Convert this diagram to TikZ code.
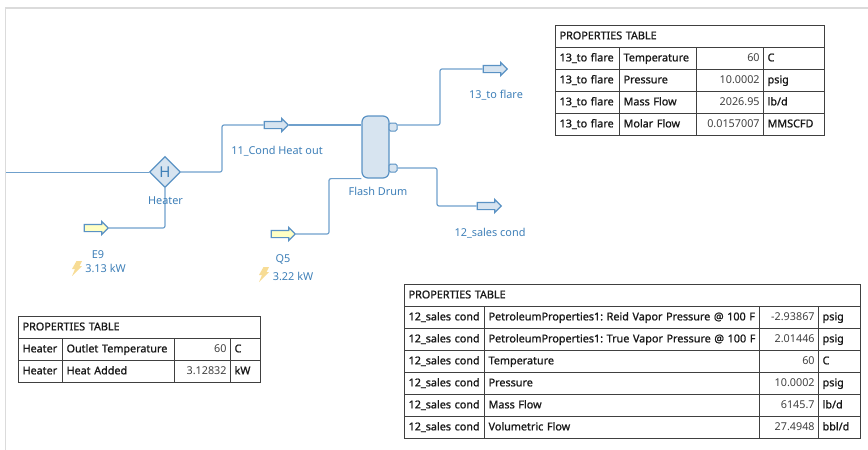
\documentclass[tikz,border=0pt]{standalone}
\usepackage{fontspec}
\setmainfont{Noto Sans}
\newfontfamily\cellfont[FakeBold=1.2, WordSpace=0.6]{Noto Sans}
\frenchspacing
\usepackage{tikz}
\usetikzlibrary{arrows.meta, positioning, shapes.geometric, shapes.arrows}

\definecolor{linecol}{HTML}{6FA0CC}
\definecolor{edgecol}{HTML}{5A92C4}
\definecolor{fillcol}{HTML}{D7E4F0}
\definecolor{textcol}{HTML}{3F80B8}
\definecolor{energycol}{HTML}{FFFFC4}
\definecolor{boltcol}{HTML}{F7DC95}
\definecolor{gridcol}{HTML}{404040}

\tikzset{
  stream/.style={draw=linecol, line width=1.2pt, rounded corners=2pt},
  flowmark/.style={single arrow, draw=edgecol, fill=fillcol, line width=1.2pt, inner xsep=0pt, inner ysep=3pt,
    minimum height=24pt, single arrow head extend=3pt},
  energymark/.style={flowmark, fill=energycol},
  lbl/.style={text=textcol, font=\fontsize{10.9}{12}\selectfont, inner sep=0pt, yshift=-0.7pt},
  nozzle/.style={draw=edgecol, fill=fillcol, line width=1pt, rounded corners=1.5pt,
    minimum width=8pt, minimum height=8pt, inner sep=0pt},
  cell/.style={draw=gridcol, line width=1.2pt, anchor=north west, inner sep=0pt, minimum height=22pt,
    text height=8pt, text depth=2.5pt, font=\cellfont\frenchspacing\fontsize{10.8}{12}\selectfont, text=black!90},
  lcell/.style={cell, minimum width=#1, text width=#1-8pt, align=left},
  rcell/.style={cell, minimum width=#1, text width=#1-8pt, align=right,
    font=\rmfamily\fontsize{10.8}{12}\selectfont, text=black!75},
}
\newcommand{\boltmark}[2]{%
  \fill[boltcol, shift={(#1,#2)}] (1.5,-7) -- (7,-7) -- (4.5,-2) -- (7,-2) -- (-3,8) -- (0,1) -- (-3,1) -- cycle;}

\begin{document}
\begin{tikzpicture}[x=1pt, y=-1pt]
  \useasboundingbox (0,0) rectangle (868,450);
  % Window edge
  \draw[black!14, line width=1.5pt] (868,8) -- (5.5,8) -- (5.5,450);

  % Units
  \node[diamond, draw=edgecol, fill=fillcol, line width=1.2pt, minimum size=31pt, inner sep=0pt,
    text=textcol, font=\fontsize{15}{16}\selectfont] (heater) at (165,172) {H};
  \node[draw=edgecol, fill=fillcol, line width=1.2pt, rounded corners=6pt, minimum width=27pt,
    minimum height=62pt, inner sep=0pt] (drum) at (375.5,147) {};
  \node[nozzle] (noztop) at (393,127) {};
  \node[nozzle] (nozbot) at (393,168) {};

  % Stream marks
  \coordinate (feed) at (6,172.4);
  \node[flowmark] (s11) at (274.5,125) {};
  \node[flowmark] (s13) at (493.5,69) {};
  \node[flowmark] (s12) at (487.5,206) {};
  \node[energymark] (e9) at (94.5,228) {};
  \node[energymark] (q5) at (281.5,234) {};

  % Connectors
  \draw[stream] (feed) -- (heater.west |- feed);
  \draw[stream] (heater.east) -- (222,172) |- (s11.west);
  \draw[stream] (s11.east) -- (drum.west |- s11.east);
  \draw[stream] (e9.east) -| (heater.south);
  \draw[stream] (q5.east) -- (329,234) |- (drum.south west);
  \draw[stream] (noztop.east |- 0,125) -- (440,125) |- (s13.west);
  \draw[stream] (nozbot.east) -- (437,168) |- (s12.west);

  % Labels
  \node[lbl] (l11) at (277,150.5) {11\_Cond Heat out};
  \node[lbl] (lheater) at (165.5,200) {Heater};
  \node[lbl] (ldrum) at (378,191) {Flash Drum};
  \node[lbl] (l13) at (496,94) {13\_to flare};
  \node[lbl] (l12) at (490,232) {12\_sales cond};
  \node[lbl] (le9) at (98,254) {E9};
  \node[lbl] (le9v) at (105.5,268) {3.13 kW};
  \node[lbl] (lq5) at (283,259) {Q5};
  \node[lbl] (lq5v) at (293,276) {3.22 kW};
  \boltmark{75}{268}
  \boltmark{262}{274}

  % Table for 13_to flare
  \node[lcell=269pt] (ta) at (555,25) {PROPERTIES TABLE};
  \foreach \i/\ytop/\prop/\val/\unit in {1/47/Temperature/60/C, 2/69/Pressure/10.0002/psig,
      3/91/Mass Flow/2026.95/{lb/d}, 4/113/Molar Flow/0.0157007/MMSCFD} {
    \node[lcell=64pt] (ta-\i-1) at (555,\ytop) {13\_to flare};
    \node[lcell=77pt] (ta-\i-2) at (619,\ytop) {\prop};
    \node[rcell=67pt] (ta-\i-3) at (696,\ytop) {\val};
    \node[lcell=61pt] (ta-\i-4) at (763,\ytop) {\unit};
  }

  % Table for 12_sales cond
  \node[lcell=456pt] (tb) at (404,284) {PROPERTIES TABLE};
  \foreach \i/\ytop/\prop/\val/\unit in {
      1/306/PetroleumProperties1: Reid Vapor Pressure @ 100 F/-2.93867/psig,
      2/328/PetroleumProperties1: True Vapor Pressure @ 100 F/2.01446/psig,
      3/350/Temperature/60/C, 4/372/Pressure/10.0002/psig,
      5/394/Mass Flow/6145.7/{lb/d}, 6/416/Volumetric Flow/27.4948/{bbl/d}} {
    \node[lcell=80pt] (tb-\i-1) at (404,\ytop) {12\_sales cond};
    \node[lcell=275pt] (tb-\i-2) at (484,\ytop) {\prop};
    \node[rcell=59pt] (tb-\i-3) at (759,\ytop) {\val};
    \node[lcell=42pt] (tb-\i-4) at (818,\ytop) {\unit};
  }

  % Table for Heater
  \node[lcell=242pt] (tc) at (18,316) {PROPERTIES TABLE};
  \foreach \i/\ytop/\prop/\val/\unit in {1/338/Outlet Temperature/60/C, 2/360/Heat Added/3.12832/kW} {
    \node[lcell=44pt] (tc-\i-1) at (18,\ytop) {Heater};
    \node[lcell=112pt] (tc-\i-2) at (62,\ytop) {\prop};
    \node[rcell=56pt] (tc-\i-3) at (174,\ytop) {\val};
    \node[lcell=30pt] (tc-\i-4) at (230,\ytop) {\unit};
  }
\end{tikzpicture}
\end{document}
